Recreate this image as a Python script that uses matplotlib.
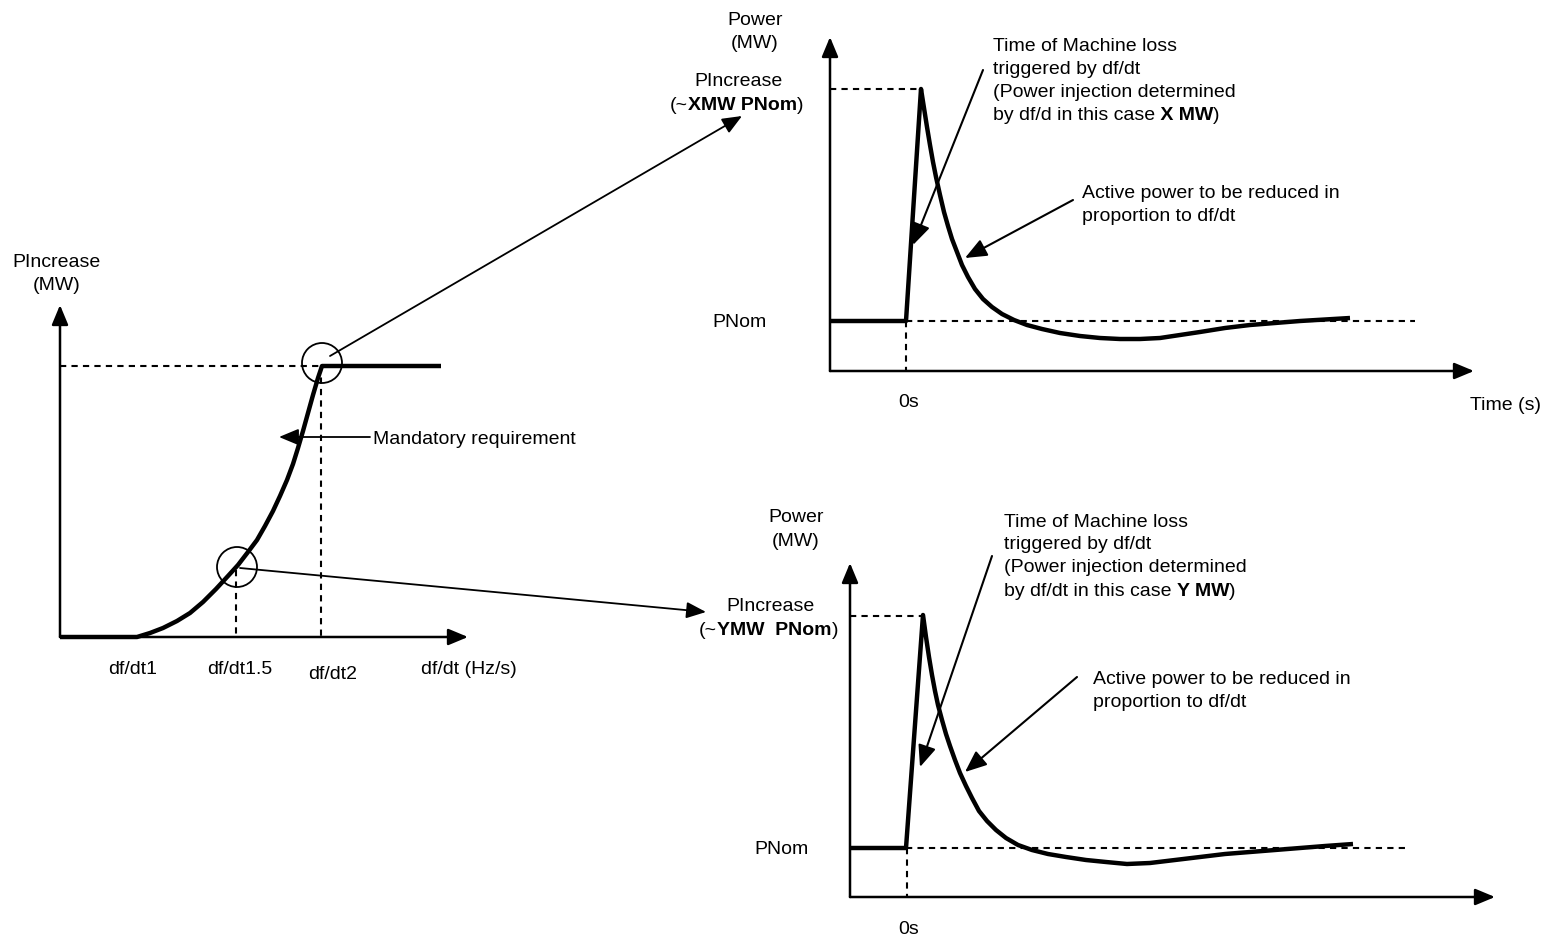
import matplotlib
matplotlib.use("Agg")
import matplotlib.pyplot as plt
from matplotlib.patches import Circle

plt.rcParams['font.family'] = ['Liberation Sans', 'DejaVu Sans']

# ---------------- data (schematic canvas units) -------------
# Left panel: PIncrease vs df/dt characteristic
ramp_x = [60, 137, 150, 163, 177, 190, 203, 216, 228, 238, 248, 257, 265, 273, 280,
          287, 293, 298, 303, 308, 313, 318, 322, 441]
ramp_y = [637, 637, 633, 628, 621, 613, 602, 589, 576, 565, 552, 540, 526, 511, 496,
          480, 464, 448, 431, 413, 395, 378, 366, 366]
left_ticks = ["df/dt1", "df/dt1.5", "df/dt2", "df/dt (Hz/s)"]

# Top-right panel: power response, case X
top_t = [830, 906, 921, 924, 927, 930, 933, 936, 940, 944, 948, 952, 957, 962, 968,
         975, 983, 992, 1002, 1014, 1027, 1042, 1060, 1080, 1100, 1120, 1140, 1160,
         1180, 1200, 1225, 1250, 1275, 1300, 1325, 1350]
top_p = [321, 321, 89, 108, 127, 145, 162, 177, 195, 212, 226, 239, 252, 265, 277,
         289, 299, 307, 314, 320, 325, 329, 333, 336, 338, 339, 339, 338,
         335, 332, 328, 325, 323, 321, 319.5, 318]

# Bottom-right panel: power response, case Y
bot_t = [850, 906, 923, 926, 929, 932, 935, 938, 942, 946, 950, 955, 960, 966, 972,
         979, 987, 996, 1006, 1018, 1032, 1048, 1066, 1086, 1106, 1127, 1150, 1175,
         1200, 1225, 1250, 1275, 1300, 1325, 1353]
bot_p = [848, 848, 615, 637, 657, 675, 691, 705, 720, 734, 746, 760, 773, 786, 798,
         811, 821, 830, 838, 845, 850, 854, 857, 860, 862, 864, 863, 860,
         857, 854, 852, 850, 848, 846, 844]

# ---------------- figure ----------------
W, H = 1546, 938
fig = plt.figure(figsize=(W / 100, H / 100), dpi=100)
ax = fig.add_axes([0, 0, 1, 1])
ax.set_xlim(0, W)
ax.set_ylim(H, 0)
ax.axis('off')

FS = 14
BASE = 7  # cap-centre to baseline offset (px)
K = 'black'
DASH = dict(color=K, lw=1.5, linestyle=(0, (3, 2.5)))


def txt(x, yc, s, ha='left', weight='normal'):
    return ax.text(x, yc + BASE, s, ha=ha, va='baseline', fontsize=FS,
                   fontweight=weight, color=K)


def rich(x, yc, parts):
    prev = None
    for s, w in parts:
        if prev is None:
            prev = txt(x, yc, s, weight=w)
        else:
            prev = ax.annotate(s, xy=(1, yc + BASE), xycoords=(prev, 'data'),
                               ha='left', va='baseline', fontsize=FS,
                               fontweight=w, color=K)
    return prev


def arrow(tail, tip, lw=1.5, scale=20):
    ax.annotate('', xy=tip, xytext=tail,
                arrowprops=dict(arrowstyle='-|>,head_length=0.6,head_width=0.25',
                                mutation_scale=scale, lw=lw, color=K,
                                shrinkA=0, shrinkB=0))


CURVE = dict(color=K, lw=3.2, solid_capstyle='butt', solid_joinstyle='round')

# ---------------- left panel ----------------
arrow((60, 637), (60, 305), lw=1.8)
arrow((60, 637), (468, 637), lw=1.8)
ax.plot([60, 322], [366, 366], **DASH)
ax.plot([321, 321], [366, 637], **DASH)
ax.plot([236, 236], [570, 637], **DASH)
ax.plot(ramp_x, ramp_y, **CURVE)
ax.add_patch(Circle((322, 363), 20, fill=False, lw=1.3, ec=K))
ax.add_patch(Circle((237, 567), 20, fill=False, lw=1.3, ec=K))
arrow((330, 356), (742, 116), lw=1.3)
arrow((240, 568), (706, 612), lw=1.3)
arrow((370, 437), (279, 437), lw=1.3)
txt(373, 437, "Mandatory requirement")
txt(57, 260, "PIncrease", ha='center')
txt(57, 283, "(MW)", ha='center')
for xc, yc, s in zip([133, 240, 333, 469], [667, 667, 672, 667], left_ticks):
    txt(xc, yc, s, ha='center')

# ---------------- top-right panel ----------------
arrow((830, 371), (830, 37), lw=1.8)
arrow((830, 371), (1474, 371), lw=1.8)
ax.plot([830, 921], [89, 89], **DASH)
ax.plot([906, 1415], [321, 321], **DASH)
ax.plot([906, 906], [321, 371], **DASH)
ax.plot(top_t, top_p, **CURVE)
txt(755, 18, "Power", ha='center')
txt(755, 41, "(MW)", ha='center')
txt(739, 79, "PIncrease", ha='center')
rich(670, 103, [("(~", 'normal'), ("XMW PNom", 'bold'), (")", 'normal')])
txt(740, 320, "PNom", ha='center')
txt(909, 400, "0s", ha='center')
txt(1506, 403, "Time (s)", ha='center')
txt(993, 44, "Time of Machine loss")
txt(993, 67, "triggered by df/dt")
txt(993, 90, "(Power injection determined")
rich(993, 113, [("by df/d in this case", 'normal'), (" X MW", 'bold'), (")", 'normal')])
arrow((983, 70), (913, 245), lw=1.5, scale=22)
txt(1082, 191, "Active power to be reduced in")
txt(1082, 214, "proportion to df/dt")
arrow((1073, 200), (965, 258), lw=1.5, scale=22)

# ---------------- bottom-right panel ----------------
arrow((850, 897), (850, 563), lw=1.8)
arrow((850, 897), (1495, 897), lw=1.8)
ax.plot([850, 928], [616, 616], **DASH)
ax.plot([906, 1410], [848, 848], **DASH)
ax.plot([907, 907], [848, 897], **DASH)
ax.plot(bot_t, bot_p, **CURVE)
txt(796, 515, "Power", ha='center')
txt(796, 539, "(MW)", ha='center')
txt(771, 604, "PIncrease", ha='center')
rich(699, 628, [("(~", 'normal'), ("YMW  PNom", 'bold'), (")", 'normal')])
txt(781, 847, "PNom", ha='center')
txt(909, 927, "0s", ha='center')
txt(1004, 520, "Time of Machine loss")
txt(1004, 542, "triggered by df/dt")
txt(1004, 565, "(Power injection determined")
rich(1004, 589, [("by df/dt in this case", 'normal'), (" Y MW", 'bold'), (")", 'normal')])
arrow((992, 556), (920, 767), lw=1.5, scale=22)
txt(1093, 677, "Active power to be reduced in")
txt(1093, 700, "proportion to df/dt")
arrow((1077, 677), (965, 772), lw=1.5, scale=22)

fig.savefig("out.png", dpi=100, facecolor='white')
